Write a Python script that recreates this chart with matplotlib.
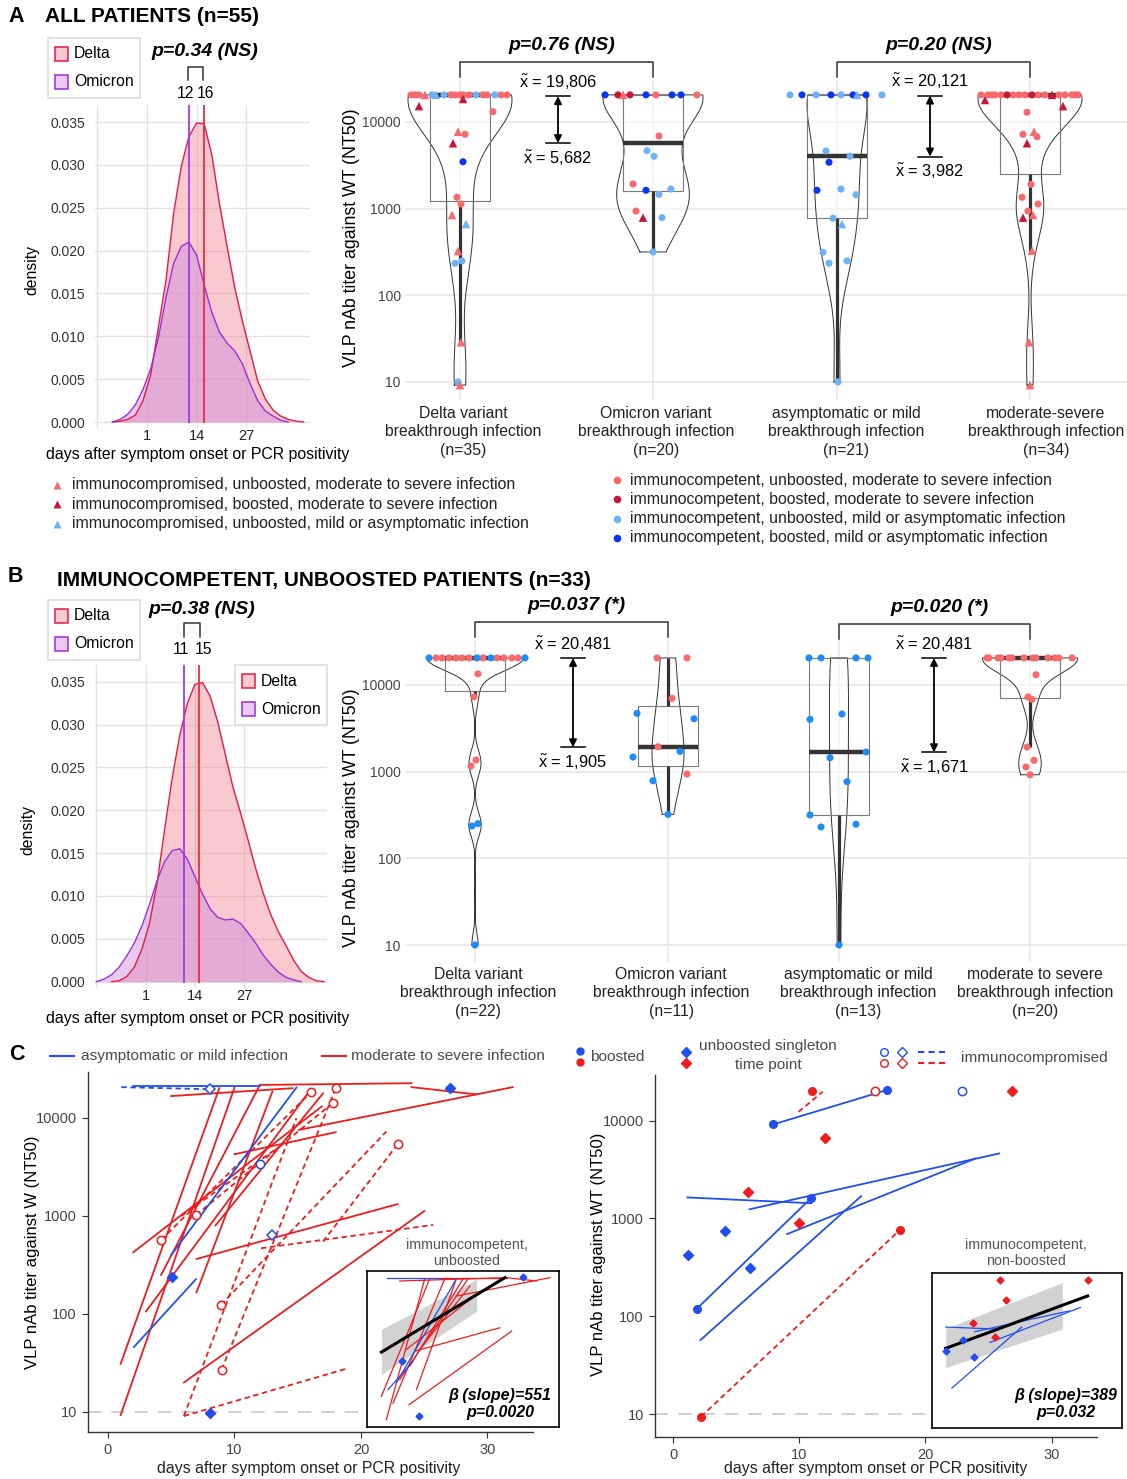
import numpy as np
import matplotlib
matplotlib.use("Agg")
import matplotlib.pyplot as plt
from matplotlib.patches import Rectangle

plt.rcParams['font.family'] = ['Liberation Sans', 'DejaVu Sans']
plt.rcParams['mathtext.fontset'] = 'custom'
plt.rcParams['mathtext.rm'] = 'Liberation Sans'
plt.rcParams['mathtext.it'] = 'Liberation Sans:italic'
plt.rcParams['mathtext.bf'] = 'Liberation Sans:bold'

# ---------------- data ----------------
# density curves of days after symptom onset
dens_days_a = [-8, -6, -4, -2, 0, 2, 4, 6, 8, 10, 12, 14, 16, 18, 20, 22, 24, 26, 28, 30,
               32, 34, 36, 38, 40, 42]
dens_delta_a = [0, 0.0001, 0.0003, 0.0008, 0.0025, 0.0055, 0.011, 0.0165, 0.0243, 0.0298,
                0.0333, 0.0349, 0.0348, 0.0312, 0.0255, 0.0205, 0.0157, 0.0118, 0.0083,
                0.0048, 0.0027, 0.0014, 0.0007, 0.0003, 0.0001, 0]
dens_omicron_a = [0, 0.0003, 0.0009, 0.002, 0.0038, 0.0062, 0.0098, 0.0145, 0.0185, 0.0205,
                  0.021, 0.0195, 0.016, 0.0128, 0.0105, 0.0092, 0.0083, 0.0068, 0.0045,
                  0.0025, 0.0013, 0.0007, 0.0002, 0, 0, 0]
dens_days_b = [-12, -10, -8, -6, -4, -2, 0, 2, 4, 6, 8, 10, 12, 14, 16, 18, 20, 22, 24, 26,
               28, 30, 32, 34, 36, 38, 40, 42, 44, 46, 48]
dens_delta_b = [0, 0, 0, 0.0001, 0.0006, 0.0017, 0.0038, 0.0068, 0.0115, 0.0178, 0.0238,
                0.0288, 0.0325, 0.0347, 0.0349, 0.0333, 0.0303, 0.0265, 0.0227, 0.0197,
                0.0165, 0.0132, 0.0103, 0.0078, 0.0058, 0.0042, 0.0025, 0.0012, 0.0005,
                0.0001, 0]
dens_omicron_b = [0, 0.0003, 0.0008, 0.0017, 0.003, 0.0045, 0.0065, 0.009, 0.0118, 0.014,
                  0.0153, 0.0155, 0.0143, 0.0122, 0.0102, 0.0085, 0.0075, 0.0072, 0.0073,
                  0.0068, 0.0057, 0.0045, 0.0031, 0.002, 0.0011, 0.0005, 0.0002, 0, 0, 0, 0]
median_days_a = (16, 12)   # delta, omicron
median_days_b = (15, 11)

# violin points: titer, horizontal jitter (px), kind
# cu/cb: immunocompetent un/boosted severe, mu/mb: immunocompetent un/boosted mild
# tu/tb: immunocompromised un/boosted severe, tm: immunocompromised unboosted mild
a_delta_val = [20480] * 18 + [15200, 18400, 13100, 7700, 7200, 5670, 3470, 1350, 1130, 843,
                              663, 324, 234, 249, 28.7, 10, 9.2]
a_delta_dx = [-49, -45, -41, -35, -28, -24, -16, -9, -5, 0, 3, 9, 16, 23, 27, 35, 41, 47,
              -41, 3, 33, -2, 5, -7, 3, -3, 1, -8, 6, -2, -5, 2, 1, -2, 0]
a_delta_kind = ['cu', 'cu', 'cu', 'tu', 'mu', 'tm', 'mu', 'cu', 'cu', 'cu', 'cu', 'cu', 'mu',
                'cu', 'cu', 'mu', 'cu', 'cu',
                'tb', 'tb', 'cu', 'tu', 'cu', 'tb', 'mb', 'cu', 'cu', 'tu', 'tm', 'tu', 'mu',
                'mu', 'tu', 'mu', 'tu']
a_omi_val = [20480] * 9 + [6870, 4650, 4010, 1920, 1625, 1460, 1680, 937, 786, 786, 316]
a_omi_dx = [-48, -35, -30, -23, -7, 3, 19, 28, 44, 6, -6, 1, -20, -7, 6, 18, -17, -10, 9, 0]
a_omi_kind = ['mb', 'cb', 'tu', 'cb', 'mb', 'cu', 'mb', 'mb', 'cu',
              'cu', 'mu', 'mu', 'cu', 'mb', 'mu', 'mu', 'cu', 'tb', 'mu', 'mu']
a_mild_val = [20480] * 9 + [4620, 3420, 4010, 1625, 1680, 1445, 773, 663, 313, 234, 249, 10]
a_mild_dx = [-47, -35, -21, -6, 4, 16, 20, 29, 45, -11, -8, 13, -20, 4, 19, -4, 5, -14, -8, 10, 1]
a_mild_kind = ['mu', 'mb', 'mu', 'mb', 'mu', 'mb', 'tm', 'mb', 'mu',
               'mu', 'mb', 'mu', 'mb', 'mu', 'mu', 'mu', 'tm', 'mu', 'mu', 'mu', 'mu']
a_sev_val = [20480] * 18 + [17900, 15200, 12900, 7200, 7700, 6740, 5670, 1900, 1350, 1130,
                            937, 786, 843, 327, 28.7, 9.2]
a_sev_dx = [-49, -42, -38, -35, -29, -23, -17, -11, -5, 2, 8, 15, 22, 29, 35, 42, 45, 48,
            -45, 33, -3, -7, 4, 7, -3, 1, -8, 8, -2, -7, 3, 2, -1, 0]
a_sev_kind = ['cu', 'cu', 'cu', 'cu', 'cu', 'cb', 'cu', 'cu', 'cu', 'cb', 'cu', 'cu', 'tb',
              'cu', 'cu', 'cu', 'cu', 'cu',
              'tb', 'tb', 'cu', 'cu', 'tu', 'cu', 'tb', 'cu', 'cu', 'cu', 'cu', 'tb', 'tu',
              'tu', 'tu', 'tu']

b_delta_val = [20480] * 15 + [13400, 7310, 1360, 1160, 236, 251, 10]
b_delta_dx = [-46, -39, -33, -26, -19, -13, -6, 2, 8, 16, 22, 29, 37, 43, 50, 3, -1, 1, -4, -3, 3, 0]
b_delta_kind = ['mu', 'cu', 'cu', 'cu', 'cu', 'cu', 'cu', 'mu', 'cu', 'mu', 'cu', 'cu', 'cu',
                'cu', 'mu', 'cu', 'cu', 'cu', 'cu', 'mu', 'mu', 'mu']
b_omi_val = [20480, 20480, 7000, 4700, 4070, 1935, 1713, 1472, 937, 785, 321]
b_omi_dx = [-11, 19, 4, -31, 26, -10, 12, -35, 19, -15, 0]
b_omi_kind = ['cu', 'cu', 'cu', 'mu', 'mu', 'cu', 'mu', 'mu', 'cu', 'mu', 'mu']
b_mild_val = [20480, 20480, 20480, 20480, 4010, 4620, 1683, 1445, 765, 316, 230, 247, 10]
b_mild_dx = [-30, -18, 17, 29, -29, 3, 27, -9, 8, -29, -18, 17, 0]
b_mild_kind = ['mu'] * 13
b_sev_val = [20480] * 13 + [13100, 7250, 6820, 1920, 1350, 1130, 920]
b_sev_dx = [-43, -41, -32, -29, -21, -18, -6, 3, 6, 18, 25, 29, 42, 6, -2, 2, -3, 4, -4, 0]
b_sev_kind = ['cu'] * 20

labels_a = ['Delta variant\nbreakthrough infection\n(n=35)',
            'Omicron variant\nbreakthrough infection\n(n=20)',
            'asymptomatic or mild\nbreakthrough infection\n(n=21)',
            'moderate-severe\nbreakthrough infection\n(n=34)']
labels_b = ['Delta variant\nbreakthrough infection\n(n=22)',
            'Omicron variant\nbreakthrough infection\n(n=11)',
            'asymptomatic or mild\nbreakthrough infection\n(n=13)',
            'moderate to severe\nbreakthrough infection\n(n=20)']
medians_a = [19806, 5682, 20121, 3982]
medians_b = [20481, 1905, 20481, 1671]
pvals_a = ['p=0.76 (NS)', 'p=0.20 (NS)']
pvals_b = ['p=0.037 (*)', 'p=0.020 (*)']

# panel C left: unboosted trajectories (day pairs, titer pairs)
cl_red_days = [(5.0, 14.6), (12.0, 24.0), (24.0, 29.1), (15.1, 32.0), (1.0, 8.8), (1.0, 10.0),
               (2.0, 16.9), (3.0, 16.0), (7.0, 13.0), (10.0, 18.0), (7.0, 22.9), (6.0, 25.0),
               (4.2, 11.9), (8.5, 17.0)]
cl_red_titer = [(16700, 20100), (21700, 22600), (20600, 17400), (7550, 20600), (31, 20100),
                (9.3, 20400), (426, 13100), (106, 19300), (166, 18600), (4260, 7150),
                (364, 1320), (20, 1120), (250, 20400), (800, 17800)]
cl_red_dash_days = [(4.2, 16.05), (6.95, 17.75), (8.93, 22.0), (8.98, 18.03), (6.0, 14.9),
                    (6.0, 19.0), (12.1, 25.7), (17.0, 22.9), (5.8, 14.0)]
cl_red_dash_titer = [(570, 18300), (1020, 14100), (124, 7260), (27, 20400), (9.1, 9930),
                     (9.1, 28), (468, 809), (547, 5380), (1000, 5600)]
cl_blue_days = [(2.0, 12.0), (5.0, 14.9), (2.05, 6.95)]
cl_blue_titer = [(21200, 21200), (400, 20400), (46, 226)]
cl_blue_dash_days = [(1.06, 8.08)]
cl_blue_dash_titer = [(20600, 19600)]
cl_red_open_day = [4.2, 16.05, 6.95, 17.75, 8.93, 8.98, 18.03, 22.9]
cl_red_open_titer = [570, 18300, 1020, 14100, 124, 27, 20400, 5380]
cl_blue_open_day, cl_blue_open_titer = [12.0], [3370]
cl_blue_opend_day, cl_blue_opend_titer = [8.08, 13.0], [19600, 635]
cl_blue_diam_day, cl_blue_diam_titer = [5.08, 8.05, 27.0], [240, 9.8, 20000]

# panel C right: boosted trajectories
cr_blue_days = [(7.95, 16.97), (1.88, 10.95), (1.14, 10.95), (6.06, 25.85), (9.04, 23.98), (2.17, 14.91)]
cr_blue_titer = [(9160, 20600), (119, 1620), (1640, 1430), (1240, 4620), (692, 4110), (57, 1690)]
cr_blue_dot_day = [7.95, 16.97, 1.88, 10.95]
cr_blue_dot_titer = [9160, 20600, 119, 1620]
cr_red_dash_days = [(9.95, 11.87), (2.22, 17.97)]
cr_red_dash_titer = [(12300, 19800), (9.4, 760)]
cr_red_dot_day, cr_red_dot_titer = [11.0, 2.22, 17.97], [20200, 9.4, 760]
cr_red_open_day, cr_red_open_titer = [16.0], [20100]
cr_blue_open_day, cr_blue_open_titer = [22.9], [20100]
cr_red_diam_day = [26.89, 12.04, 5.97, 10.0]
cr_red_diam_titer = [20100, 6640, 1850, 904]
cr_blue_diam_day = [4.08, 1.19, 6.06]
cr_blue_diam_titer = [750, 423, 308]

# insets (immunocompetent only) with regression line and band
il_red_days = [(13.57, 25.44), (5.97, 25.44), (16.31, 33.36), (25.44, 30.92), (2.62, 11.44),
               (3.53, 10.53), (4.75, 14.18), (9.01, 16.31), (7.79, 17.53), (5.97, 18.44),
               (9.62, 18.75), (7.18, 19.97), (8.7, 24.23), (7.67, 26.36)]
il_red_titer = [(27400, 27400), (22700, 27400), (9770, 27400), (27400, 22700), (35, 25900),
                (9.5, 25900), (24, 25900), (51, 25900), (191, 25900), (90, 25900),
                (488, 17100), (488, 10700), (444, 1650), (22, 1365)]
il_blue_days = [(3.65, 13.57), (5.36, 16.31), (3.83, 8.4)]
il_blue_titer = [(27400, 27400), (75, 25900), (51, 253)]
il_diam_day, il_diam_titer = [6.45, 9.43, 28.37], [253, 11.5, 28400]
il_fit_day, il_fit_titer = [2.62, 25.14], [420, 27400]
il_band_day, il_band_lo, il_band_hi = [2.62, 19.97], [120, 4210], [1500, 24900]

ir_blue_days = [(2.53, 12.0), (7.87, 25.33), (10.67, 27.33), (3.67, 16.53)]
ir_blue_titer = [(1880, 1680), (1450, 4700), (790, 5680), (60, 1880)]
ir_bdiam_day, ir_bdiam_titer = [2.67, 5.8, 7.67], [488, 904, 355]
ir_rdiam_day = [7.53, 11.67, 12.53, 13.67, 28.67]
ir_rdiam_titer = [2310, 1090, 27400, 8570, 27400]
ir_fit_day, ir_fit_titer = [2.53, 28.67], [566, 10900]
ir_band_day, ir_band_lo, ir_band_hi = [2.53, 24.0], [191, 1680], [1740, 23100]

# ---------------- figure ----------------
W, H = 1127, 1479
fig = plt.figure(figsize=(W / 100, H / 100), dpi=100)


def px_axes(l, t, r, b, **kw):
    return fig.add_axes([l / W, 1 - b / H, (r - l) / W, (b - t) / H], **kw)


RED_D, PURPLE = '#E41A45', '#9A2FD8'
STY_A = {'cu': ('o', '#F8696B'), 'cb': ('o', '#C8173A'), 'mu': ('o', '#6DB1F6'),
         'mb': ('o', '#0A35F2'), 'tu': ('^', '#F8696B'), 'tb': ('^', '#C8173A'),
         'tm': ('^', '#6DB1F6')}
STY_B = {'cu': ('o', '#F8696B'), 'mu': ('o', '#1E8BFA')}


def density_panel(ax, days, d_delta, d_omi, meds, xlim, ylim):
    x = np.array(days, float)
    for vals, fc, a, ec in ((d_delta, '#F27A8A', 0.4, RED_D), (d_omi, '#CC88DD', 0.45, PURPLE)):
        v = np.array(vals, float)
        nz = np.nonzero(v)[0]
        sl = slice(max(nz[0] - 1, 0), nz[-1] + 2)
        ax.fill_between(x[sl], v[sl], color=fc, alpha=a, lw=0, zorder=2)
        ax.plot(x[sl], v[sl], color=ec, lw=1.0, zorder=3)
    ax.plot([meds[1], meds[1]], [0, ylim[1]], color='#A238E8', lw=1.3, zorder=4)
    ax.plot([meds[0], meds[0]], [0, ylim[1]], color='#EC2A3F', lw=1.3, zorder=4)
    ax.set_xlim(xlim)
    ax.set_ylim(ylim)
    ax.set_xticks([-12, 1, 14, 27])
    ax.set_xticklabels(['', '1', '14', '27'])
    yt = [0, 0.005, 0.01, 0.015, 0.02, 0.025, 0.03, 0.035]
    ax.set_yticks(yt)
    ax.set_yticklabels(['%.3f' % v for v in yt])
    ax.grid(color='#E2E2E2', lw=1)
    ax.set_axisbelow(True)
    for s in ax.spines.values():
        s.set_visible(False)
    ax.tick_params(length=0, labelsize=10, labelcolor='#333')
    ax.tick_params(axis='x', pad=0.5, labelsize=10.5, labelcolor='#222')
    ax.tick_params(axis='y', pad=7)


def nrd0(x):
    sd = np.std(x, ddof=1)
    q75, q25 = np.percentile(x, [75, 25])
    lo = min(sd, (q75 - q25) / 1.34) if q75 > q25 else sd
    return 0.9 * lo * len(x) ** -0.2


def violin_panel(ax, groups, centers, widths, sty, ylim):
    logs = []
    for (vals, dx, kinds), c, w in zip(groups, centers, widths):
        lv = np.log10(np.array(vals, float))
        logs.append(lv)
        h = nrd0(lv)
        ys = np.linspace(lv.min(), lv.max(), 300)
        d = np.exp(-0.5 * ((ys[:, None] - lv[None, :]) / h) ** 2).sum(axis=1)
        hw = d / d.max() * w / 2
        ax.fill_betweenx(ys, c - hw, c + hw, color='white', alpha=0.55, lw=0, zorder=2)
        ax.plot(np.r_[c - hw, (c + hw)[::-1], c - hw[0]], np.r_[ys, ys[::-1], ys[0]],
                color='#333333', lw=0.7, zorder=3)
    bp = ax.boxplot(logs, positions=centers, widths=60, whis=1.5, showfliers=False,
                    showcaps=False, manage_ticks=False,
                    boxprops=dict(color='#7a7a7a', lw=0.8),
                    medianprops=dict(color='#333333', lw=3.2, solid_capstyle='butt'),
                    whiskerprops=dict(color='#333333', lw=2.3, solid_capstyle='butt'))
    for k in bp:
        for art in bp[k]:
            art.set_zorder(4)
    for (vals, dx, kinds), c, lv in zip(groups, centers, logs):
        dx = np.array(dx, float)
        kinds = np.array(kinds)
        for k, (m, col) in sty.items():
            sel = kinds == k
            if sel.any():
                ax.scatter(c + dx[sel], lv[sel], marker=m, s=26 if m == 'o' else 38,
                           color=col, edgecolors='none', zorder=5, clip_on=False)
    ax.set_xlim(405, 1127)
    ax.set_ylim(ylim)
    ax.set_xticks(centers)
    ax.set_xticklabels([])
    ax.set_yticks([1, 2, 3, 4])
    ax.set_yticklabels(['10', '100', '1000', '10000'])
    ax.grid(color='#E6E6E6', lw=1.1)
    ax.set_axisbelow(True)
    for s in ax.spines.values():
        s.set_visible(False)
    ax.tick_params(length=0, labelsize=10, labelcolor='#444', pad=3)


def median_arrow(ax, x, top, bot):
    yt, yb = np.log10(top), np.log10(bot)
    ax.annotate('', xy=(x, yt), xytext=(x, yb),
                arrowprops=dict(arrowstyle='<|-|>', color='black', lw=1.3, shrinkA=0,
                                shrinkB=0, mutation_scale=11), zorder=6)
    for y in (yt, yb):
        ax.plot([x - 12, x + 12], [y, y], color='black', lw=1.1, zorder=6)
    ax.annotate(r'$\tilde{\mathrm{x}}$ = ' + f'{top:,}', (x, yt), xytext=(0, 3),
                textcoords='offset points', ha='center', va='bottom', fontsize=11.8)
    ax.annotate(r'$\tilde{\mathrm{x}}$ = ' + f'{bot:,}', (x, yb), xytext=(0, -4),
                textcoords='offset points', ha='center', va='top', fontsize=11.8)


# ---- panel A ----
axd = px_axes(95, 105, 310, 428)
density_panel(axd, dens_days_a, dens_delta_a, dens_omicron_a, median_days_a,
              (-12.57, 43.7), (-0.0007, 0.037))
axv = px_axes(405, 80, 1127, 400)
cent_a = [460, 653, 837, 1030]
violin_panel(axv, [(a_delta_val, a_delta_dx, a_delta_kind), (a_omi_val, a_omi_dx, a_omi_kind),
                   (a_mild_val, a_mild_dx, a_mild_kind), (a_sev_val, a_sev_dx, a_sev_kind)],
             cent_a, [104, 100, 60, 104], STY_A, (0.792, 4.483))
median_arrow(axv, 558, medians_a[0], medians_a[1])
median_arrow(axv, 930, medians_a[2], medians_a[3])

# ---- panel B ----
axd2 = px_axes(95, 665, 327, 988)
density_panel(axd2, dens_days_b, dens_delta_b, dens_omicron_b, median_days_b,
              (-12.37, 48.8), (-0.00074, 0.03695))
axv2 = px_axes(405, 640, 1127, 962)
cent_b = [475, 668, 839, 1030]
violin_panel(axv2, [(b_delta_val, b_delta_dx, b_delta_kind), (b_omi_val, b_omi_dx, b_omi_kind),
                    (b_mild_val, b_mild_dx, b_mild_kind), (b_sev_val, b_sev_dx, b_sev_kind)],
             cent_b, [96, 32, 19, 95], STY_B, (0.804, 4.518))
median_arrow(axv2, 573, medians_b[0], medians_b[1])
median_arrow(axv2, 934, medians_b[2], medians_b[3])

# ---- panel C ----
BLUE, RED = '#1F4FF0', '#EE1C1C'


def c_axes(ax, xlim, ylim):
    ax.set_yscale('log')
    ax.set_xlim(xlim)
    ax.set_ylim(ylim)
    ax.axhline(10, color='#C8C8C8', lw=1.2, dashes=(8, 6), zorder=1)
    ax.set_xticks([0, 10, 20, 30])
    ax.set_yticks([10, 100, 1000, 10000])
    ax.set_yticklabels(['10', '100', '1000', '10000'])
    ax.minorticks_off()
    for s in ('top', 'right'):
        ax.spines[s].set_visible(False)
    for s in ('left', 'bottom'):
        ax.spines[s].set_color('#333')
        ax.spines[s].set_linewidth(1.0)
    ax.tick_params(length=4, color='#333', labelsize=10.5, labelcolor='#444', pad=4)


def segs(ax, days, titers, color, ls='-', lw=1.3):
    for d, t in zip(days, titers):
        if ls == '-':
            ax.plot(d, t, color=color, lw=lw, zorder=3)
        else:
            ax.plot(d, t, color=color, lw=lw, dashes=(3, 2), zorder=3)


axl = px_axes(88, 1072, 533, 1432)
c_axes(axl, (-1.58, 33.6), (6.25, 29400))
segs(axl, cl_red_days, cl_red_titer, RED)
segs(axl, cl_red_dash_days, cl_red_dash_titer, RED, ls='--')
segs(axl, cl_blue_days, cl_blue_titer, BLUE)
segs(axl, cl_blue_dash_days, cl_blue_dash_titer, BLUE, ls='--')
axl.plot(cl_red_open_day, cl_red_open_titer, 'o', ms=6, mfc='white', mec=RED, mew=1.1, ls='none', zorder=5)
axl.plot(cl_blue_open_day, cl_blue_open_titer, 'o', ms=6, mfc='white', mec=BLUE, mew=1.1, ls='none', zorder=5)
axl.plot(cl_blue_opend_day, cl_blue_opend_titer, 'D', ms=5.5, mfc='white', mec=BLUE, mew=1.1, ls='none', zorder=5)
axl.plot(cl_blue_diam_day, cl_blue_diam_titer, 'D', ms=5.5, color=BLUE, ls='none', zorder=5)

axr = px_axes(655, 1075, 1097, 1437)
c_axes(axr, (-1.43, 33.6), (5.82, 29300))
segs(axr, cr_blue_days, cr_blue_titer, BLUE)
segs(axr, cr_red_dash_days, cr_red_dash_titer, RED, ls='--')
axr.plot(cr_blue_dot_day, cr_blue_dot_titer, 'o', ms=5.5, color=BLUE, ls='none', zorder=5)
axr.plot(cr_red_dot_day, cr_red_dot_titer, 'o', ms=5.5, color=RED, ls='none', zorder=5)
axr.plot(cr_red_open_day, cr_red_open_titer, 'o', ms=6, mfc='white', mec=RED, mew=1.1, ls='none', zorder=5)
axr.plot(cr_blue_open_day, cr_blue_open_titer, 'o', ms=6, mfc='white', mec=BLUE, mew=1.1, ls='none', zorder=5)
axr.plot(cr_red_diam_day, cr_red_diam_titer, 'D', ms=5.5, color=RED, ls='none', zorder=5)
axr.plot(cr_blue_diam_day, cr_blue_diam_titer, 'D', ms=5.5, color=BLUE, ls='none', zorder=5)


def inset(box, band, fit):
    ax = px_axes(*box, zorder=5)
    ax.set_yscale('log')
    ax.set_xlim(0, 35)
    ax.set_ylim(10 ** 0.8, 10 ** 4.6)
    ax.fill_between(band[0], band[1], band[2], color='#D2D2D2', lw=0, zorder=1)
    ax.plot(fit[0], fit[1], color='black', lw=2.2, zorder=6)
    ax.set_xticks([])
    ax.set_yticks([])
    ax.minorticks_off()
    for s in ax.spines.values():
        s.set_linewidth(1.2)
        s.set_color('black')
    return ax


il = inset((367, 1271, 559, 1427), (il_band_day, il_band_lo, il_band_hi), (il_fit_day, il_fit_titer))
segs(il, il_red_days, il_red_titer, RED, lw=0.9)
segs(il, il_blue_days, il_blue_titer, BLUE, lw=0.9)
il.plot(il_diam_day, il_diam_titer, 'D', ms=3.5, color=BLUE, ls='none', zorder=7)

ir = inset((932, 1273, 1122, 1428), (ir_band_day, ir_band_lo, ir_band_hi), (ir_fit_day, ir_fit_titer))
segs(ir, ir_blue_days, ir_blue_titer, BLUE, lw=0.9)
ir.plot(ir_bdiam_day, ir_bdiam_titer, 'D', ms=3.5, color=BLUE, ls='none', zorder=7)
ir.plot(ir_rdiam_day, ir_rdiam_titer, 'D', ms=3.5, color=RED, ls='none', zorder=7)

# ---------------- overlay: titles, legends, labels ----------------
ov = fig.add_axes([0, 0, 1, 1], zorder=20)
ov.set_xlim(0, W)
ov.set_ylim(H, 0)
ov.axis('off')


def T(x, y, s, **kw):
    kw.setdefault('va', 'center')
    kw.setdefault('ha', 'left')
    ov.text(x, y, s, **kw)


T(8, 17, 'A', fontsize=15.5, fontweight='bold')
T(45, 17, 'ALL PATIENTS (n=55)', fontsize=15, fontweight='bold')
T(8, 577, 'B', fontsize=15.5, fontweight='bold')
T(57, 580, 'IMMUNOCOMPETENT, UNBOOSTED PATIENTS (n=33)', fontsize=15, fontweight='bold')
T(9, 1055, 'C', fontsize=15.5, fontweight='bold')


# density legends, brackets and labels
def dens_legend(x0, y0):
    ov.add_patch(Rectangle((x0, y0), 92, 60, fc='white', ec='#DDDDDD', lw=1.2))
    for i, (name, fc, a, ec) in enumerate((('Delta', '#F27A8A', 0.4, RED_D),
                                            ('Omicron', '#CC88DD', 0.45, PURPLE))):
        yy = y0 + 16 + 28 * i
        ov.add_patch(Rectangle((x0 + 7, yy - 7), 13, 14, fc=fc, alpha=a, lw=0))
        ov.add_patch(Rectangle((x0 + 7, yy - 7), 13, 14, fc='none', ec=ec, lw=1.1))
        T(x0 + 26, yy, name, fontsize=11.3)


dens_legend(48, 38)
dens_legend(48, 600)
dens_legend(235, 665)

for (x1, x2, ytop, ybot, ptxt, pcx, pcy, meds) in (
        (188, 203, 67, 80, 'p=0.34 (NS)', 205, 52, median_days_a),
        (184, 200, 623, 637, 'p=0.38 (NS)', 202, 609, median_days_b)):
    ov.plot([x1, x1, x2, x2], [ybot, ytop, ytop, ybot], color='#333', lw=1.1)
    T(pcx, pcy, ptxt, fontsize=14, fontweight='bold', style='italic', ha='center')
    T(x1 - 3, ybot + 13, str(meds[1]), fontsize=11.3, ha='center')
    T(x2 + 3, ybot + 13, str(meds[0]), fontsize=11.3, ha='center')

T(32, 270, 'density', fontsize=11.3, rotation=90, ha='center')
T(28, 830, 'density', fontsize=11.3, rotation=90, ha='center')
T(198, 454, 'days after symptom onset or PCR positivity', fontsize=11.4, ha='center')
T(198, 1018, 'days after symptom onset or PCR positivity', fontsize=11.4, ha='center')

# violin labels, brackets, p-values
T(352, 238, 'VLP nAb titer against WT (NT50)', fontsize=12.8, rotation=90, ha='center')
T(352, 818, 'VLP nAb titer against WT (NT50)', fontsize=12.8, rotation=90, ha='center')
for cents, ytop, ybot, pv, py in ((cent_a, 62, 77, pvals_a, 45), (cent_b, 622, 637, pvals_b, 605)):
    for j in range(2):
        x1, x2 = cents[2 * j], cents[2 * j + 1]
        dy = 2 * j if cents is cent_b else 0
        ov.plot([x1, x1, x2, x2], [ybot + dy, ytop + dy, ytop + dy, ybot + dy], color='#333', lw=1.1)
        T((x1 + x2) / 2 + 5, py + dy, pv[j], fontsize=14, fontweight='bold',
          style='italic', ha='center')
for lx, lab in zip([463, 656, 846, 1046], labels_a):
    T(lx, 406, lab, fontsize=11.3, ha='center', va='top', linespacing=1.28, color='#222')
for lx, lab in zip([478, 671, 858, 1035], labels_b):
    T(lx, 967, lab, fontsize=11.3, ha='center', va='top', linespacing=1.28, color='#222')

# panel A point legends
leg_left = [('tu', 'immunocompromised, unboosted, moderate to severe infection'),
            ('tb', 'immunocompromised, boosted, moderate to severe infection'),
            ('tm', 'immunocompromised, unboosted, mild or asymptomatic infection')]
for i, (k, txt) in enumerate(leg_left):
    m, col = STY_A[k]
    ov.plot(57, 485 + 19.3 * i, marker=m, ms=6, color=col, mec='none')
    T(72, 485 + 19.3 * i, txt, fontsize=11.4, color='#222')
leg_right = [('cu', 'immunocompetent, unboosted, moderate to severe infection'),
             ('cb', 'immunocompetent, boosted, moderate to severe infection'),
             ('mu', 'immunocompetent, unboosted, mild or asymptomatic infection'),
             ('mb', 'immunocompetent, boosted, mild or asymptomatic infection')]
for i, (k, txt) in enumerate(leg_right):
    m, col = STY_A[k]
    ov.plot(617, 480 + 19.3 * i, marker=m, ms=5.5, color=col, mec='none')
    T(630, 480 + 19.3 * i, txt, fontsize=11.4, color='#222')

# panel C legend
LG = '#4a4a4a'
ov.plot([50, 74], [1056, 1056], color=BLUE, lw=1.5)
T(81, 1056, 'asymptomatic or mild infection', fontsize=11.1, color=LG)
ov.plot([322, 346], [1056, 1056], color=RED, lw=1.5)
T(351, 1056, 'moderate to severe infection', fontsize=11.1, color=LG)
ov.plot(580, 1051, 'o', ms=5, color=BLUE)
ov.plot(580, 1062, 'o', ms=5, color=RED)
T(590, 1057, 'boosted', fontsize=11.1, color=LG)
ov.plot(686, 1052, 'D', ms=5, color=BLUE)
ov.plot(686, 1063, 'D', ms=5, color=RED)
T(768, 1046, 'unboosted singleton', fontsize=11.1, color=LG, ha='center')
T(768, 1065, 'time point', fontsize=11.1, color=LG, ha='center')
ov.plot(884, 1052, 'o', ms=5.5, mfc='white', mec=BLUE, mew=1)
ov.plot(884, 1063, 'o', ms=5.5, mfc='white', mec=RED, mew=1)
ov.plot(902, 1052, 'D', ms=5.5, mfc='white', mec=BLUE, mew=1)
ov.plot(902, 1063, 'D', ms=5.5, mfc='white', mec=RED, mew=1)
ov.plot([918, 948], [1052, 1052], color=BLUE, lw=1.5, dashes=(3, 2))
ov.plot([918, 948], [1063, 1063], color=RED, lw=1.5, dashes=(3, 2))
T(961, 1058, 'immunocompromised', fontsize=11.1, color=LG)

T(33, 1252, 'VLP nAb titer against W (NT50)', fontsize=12, rotation=90, ha='center')
T(598, 1254, 'VLP nAb titer against WT (NT50)', fontsize=12, rotation=90, ha='center')
T(309, 1468, 'days after symptom onset or PCR positivity', fontsize=11.4, ha='center', color='#222')
T(876, 1468, 'days after symptom onset or PCR positivity', fontsize=11.4, ha='center', color='#222')
T(467, 1253, 'immunocompetent,\nunboosted', fontsize=10.3, ha='center', color='#555', linespacing=1.15)
T(1026, 1253, 'immunocompetent,\nnon-boosted', fontsize=10.3, ha='center', color='#555', linespacing=1.15)
T(500, 1404, 'β (slope)=551\np=0.0020', fontsize=11.5, fontweight='bold',
  style='italic', ha='center', linespacing=1.2)
T(1066, 1404, 'β (slope)=389\np=0.032', fontsize=11.5, fontweight='bold',
  style='italic', ha='center', linespacing=1.2)

fig.savefig('out.png', dpi=100)
